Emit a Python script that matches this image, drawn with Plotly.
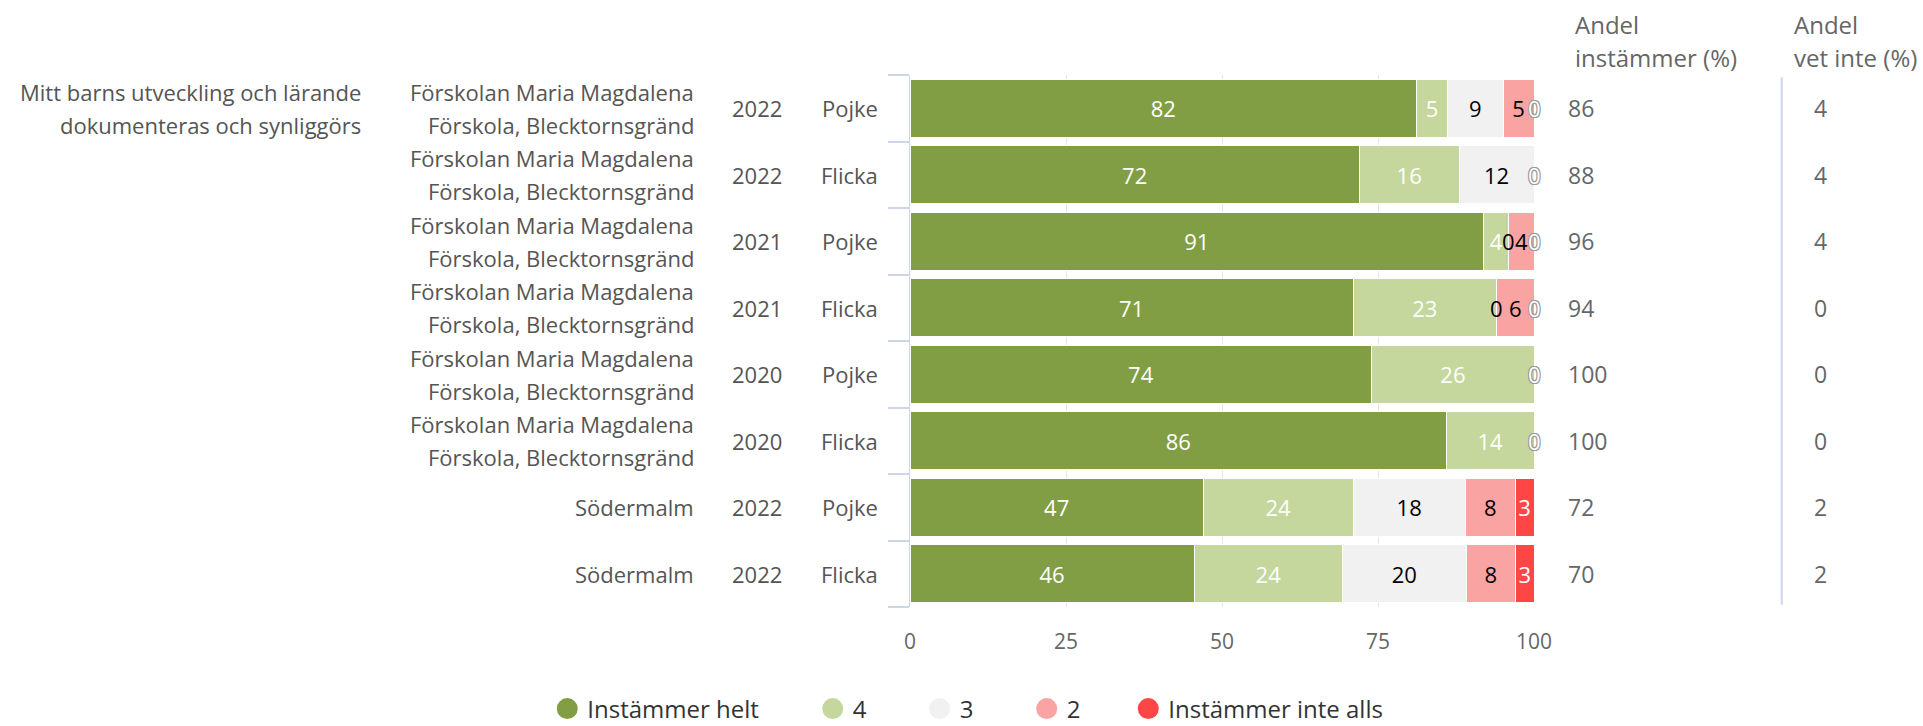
import plotly.graph_objects as go

# ---------------- data ----------------
question = ["Mitt barns utveckling och lärande", "dokumenteras och synliggörs"]
unit_fmm = ["Förskolan Maria Magdalena", "Förskola, Blecktornsgränd"]
unit_sod = ["Södermalm"]
units = [unit_fmm] * 6 + [unit_sod] * 2
years = ["2022", "2022", "2021", "2021", "2020", "2020", "2022", "2022"]
genders = ["Pojke", "Flicka", "Pojke", "Flicka", "Pojke", "Flicka", "Pojke", "Flicka"]

series_names = ["Instämmer helt", "4", "3", "2", "Instämmer inte alls"]
v_helt = [82, 72, 91, 71, 74, 86, 47, 46]
v_4 = [5, 16, 4, 23, 26, 14, 24, 24]
v_3 = [9, 12, 0, 0, 0, 0, 18, 20]
v_2 = [5, 0, 4, 6, 0, 0, 8, 8]
v_inte = [0, 0, 0, 0, 0, 0, 3, 3]

andel_instammer = [86, 88, 96, 94, 100, 100, 72, 70]
andel_vet_inte = [4, 4, 4, 0, 0, 0, 2, 2]

header_instammer = ["Andel", "instämmer (%)"]
header_vet_inte = ["Andel", "vet inte (%)"]
x_ticks = [0, 25, 50, 75, 100]

# ---------------- styles ----------------
FONT = "Open Sans"
colors = ["#829E45", "#C5D79D", "#F1F1F1", "#F9A3A3", "#FF4646"]
label_colors = ["#FFFFFF", "#FFFFFF", "#000000", "#000000", "#FFFFFF"]
series_values = [v_helt, v_4, v_3, v_2, v_inte]
legend_ids = ["legend", "legend2", "legend2", "legend2", "legend3"]
LINE_OFF = 0.25  # half line distance for two-line labels, in row units

n = len(genders)
rows = list(range(n))

fig = go.Figure()

for name, vals, col, lcol in zip(series_names, series_values, colors, label_colors):
    fig.add_trace(go.Bar(
        y=rows, x=vals, orientation="h", name=name,
        marker=dict(color=col, line=dict(color="#FFFFFF", width=1)),
        text=[str(v) for v in vals],
        textposition=["inside" if v > 0 else "none" for v in vals],
        insidetextanchor="middle",
        textangle=0,
        constraintext="none",
        textfont=dict(family=FONT, size=22, color=lcol),
        showlegend=False,
        hoverinfo="skip",
    ))

# legend entries with round markers (drawn on a hidden helper axis pair)
for name, col, lg in zip(series_names, colors, legend_ids):
    fig.add_trace(go.Scatter(
        x=[-5], y=[-5], mode="markers", name=name, legend=lg,
        marker=dict(size=16, color=col, symbol="circle", line=dict(color=col, width=5)),
        xaxis="x2", yaxis="y2", showlegend=True, hoverinfo="skip",
    ))

annotations = []

# zero-value labels (placed at the stack position computed from data)
outline = "1px 1px 0 #999, -1px -1px 0 #999, 1px -1px 0 #999, -1px 1px 0 #999"
for i in range(n):
    row = [s[i] for s in series_values]
    total = sum(row)
    cum = 0
    for s_idx, v in enumerate(row):
        cum += v
        if v == 0:
            pos = cum / total * 100
            f = dict(family=FONT, size=22, color=label_colors[s_idx])
            if label_colors[s_idx] == "#FFFFFF":
                f["shadow"] = outline
            annotations.append(dict(
                x=pos, y=i, xref="x", yref="y", text="0", showarrow=False,
                xanchor="center", yanchor="middle", font=f,
            ))


def add_lines(lines, x, yc, font, xanchor="right", yref="y", spacing=LINE_OFF):
    k = len(lines)
    sign = 1 if yref == "y" else -1  # y axis is reversed, paper is not
    for j, t in enumerate(lines):
        off = sign * (j - (k - 1) / 2) * 2 * spacing
        annotations.append(dict(x=x, y=yc + off, xref="paper", yref=yref, text=t,
                                showarrow=False, xanchor=xanchor, yanchor="middle",
                                font=font))


# left text columns
lab_font = dict(family=FONT, size=22, color="#555555")
add_lines(question, -0.8766, 0, lab_font)
for i in range(n):
    add_lines(units[i], -0.343, i, lab_font)
    add_lines([years[i]], -0.2019, i, lab_font)
    add_lines([genders[i]], -0.0481, i, lab_font)

# right columns
num_font = dict(family=FONT, size=23, color="#666666")
for i in range(n):
    add_lines([str(andel_instammer[i])], 1.052, i, num_font, xanchor="left")
    add_lines([str(andel_vet_inte[i])], 1.445, i, num_font, xanchor="left")

head_font = dict(family=FONT, size=24, color="#666666")
add_lines(header_instammer, 1.062, 1.063, head_font, xanchor="left", yref="paper", spacing=0.031)
add_lines(header_vet_inte, 1.4135, 1.063, head_font, xanchor="left", yref="paper", spacing=0.031)

leg_font = dict(family=FONT, size=24, color="#333333")
leg_common = dict(orientation="h", y=-0.1917, yanchor="middle", xanchor="left",
                  font=leg_font, traceorder="normal", itemclick=False, itemdoubleclick=False,
                  bgcolor="rgba(0,0,0,0)")
fig.update_layout(
    width=1923, height=726,
    margin=dict(l=910, r=389, t=75, b=119, autoexpand=False),
    barmode="stack", barnorm="percent", bargap=0.13,
    plot_bgcolor="#FFFFFF", paper_bgcolor="#FFFFFF",
    font=dict(family=FONT, size=20, color="#555555"),
    annotations=annotations,
    shapes=[dict(type="line", xref="paper", yref="paper", x0=1.397, x1=1.397, y0=0.004, y1=0.996,
                 line=dict(color="#ccd6eb", width=2))],
    legend=dict(x=-0.5813, **leg_common),
    legend2=dict(x=-0.1559, entrywidth=62, entrywidthmode="pixels", **leg_common),
    legend3=dict(x=0.3498, **leg_common),
    hovermode=False,
    xaxis=dict(
        range=[0, 100], tickvals=x_ticks, ticktext=[str(t) for t in x_ticks],
        showgrid=True, gridcolor="#e6e6e6", gridwidth=1, zeroline=False, showline=False,
        tickfont=dict(family=FONT, size=21, color="#666666"),
        ticks="outside", ticklen=16, tickcolor="rgba(0,0,0,0)",
        fixedrange=True,
    ),
    yaxis=dict(
        range=[n - 0.5, -0.5], showticklabels=False,
        tickvals=[r + 0.5 for r in [-1] + rows], ticks="outside", ticklen=21,
        tickcolor="#ccd6eb", tickwidth=2,
        showline=True, linecolor="#ccd6eb", linewidth=1, showgrid=False, zeroline=False,
        fixedrange=True,
    ),
    xaxis2=dict(range=[0, 1], visible=False, overlaying="x", fixedrange=True),
    yaxis2=dict(range=[0, 1], visible=False, overlaying="y", fixedrange=True),
)

fig.write_html("out.html",
               config={"displayModeBar": False},
               post_script="document.body.style.margin='0';document.body.style.overflow='hidden';")
